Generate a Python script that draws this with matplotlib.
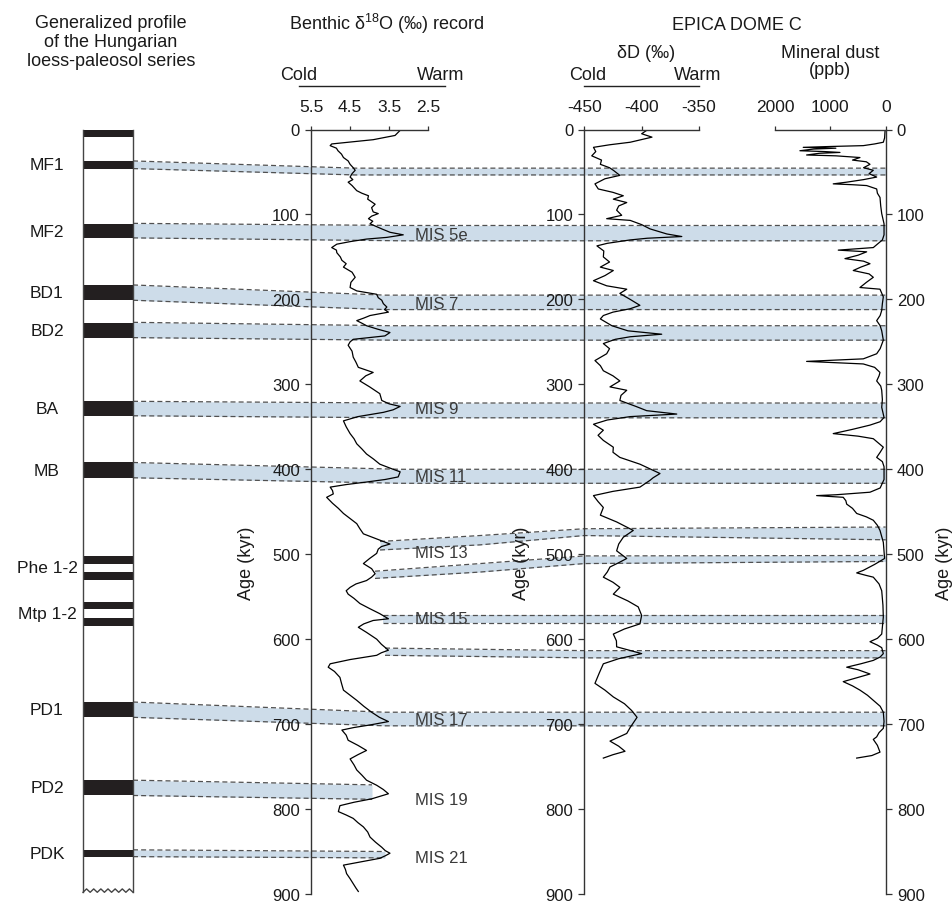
import matplotlib
matplotlib.use('Agg')
import matplotlib.pyplot as plt
from matplotlib.lines import Line2D

plt.rcParams['font.family'] = ['Liberation Sans', 'DejaVu Sans']
plt.rcParams['mathtext.fontset'] = 'custom'
plt.rcParams['mathtext.rm'] = 'Liberation Sans'
plt.rcParams['axes.unicode_minus'] = False

# ---- data ----
# benthic d18O stack (age kyr, permil)
benthic_age = [1, 7, 12, 17, 19, 22, 25, 29, 33, 37, 41, 45, 48, 52, 56, 59, 62, 66, 72, 75, 78, 82, 88, 92,
               97, 99, 102, 105, 108, 111, 117, 121, 124, 127, 129, 132, 135, 139, 142, 145, 150, 154, 158,
               162, 168, 174, 180, 186, 190, 194, 198, 201, 205, 209, 212, 215, 219, 222, 225, 228, 231, 235,
               239, 243, 247, 250, 254, 261, 268, 274, 280, 286, 290, 296, 303, 311, 319, 323, 326, 330, 333,
               338, 343, 350, 358, 364, 370, 376, 382, 388, 394, 400, 403, 409, 412, 415, 418, 421, 425, 429,
               433, 440, 446, 452, 458, 464, 470, 476, 482, 488, 491, 494, 499, 505, 511, 517, 523, 527, 531,
               535, 539, 543, 547, 552, 558, 564, 570, 576, 578, 582, 586, 592, 596, 600, 606, 613, 616, 619,
               624, 629, 633, 638, 645, 652, 660, 666, 672, 679, 686, 692, 697, 701, 704, 707, 713, 719, 725,
               731, 736, 741, 748, 754, 760, 766, 772, 777, 782, 788, 792, 796, 803, 807, 811, 816, 821, 827,
               833, 839, 845, 849, 852, 855, 858, 862, 866, 871, 876, 882, 888, 893, 897]
benthic_d18o = [3.22, 3.35, 3.91, 4.97, 5.01, 4.85, 4.81, 4.72, 4.67, 4.55, 4.50, 4.42, 4.37, 4.45, 4.50, 4.43,
                4.55, 4.45, 4.33, 4.20, 4.03, 4.05, 3.86, 3.95, 3.91, 3.78, 3.95, 4.03, 3.92, 3.99, 3.69, 3.48,
                3.14, 3.56, 4.08, 4.50, 4.84, 4.97, 4.85, 4.84, 4.75, 4.71, 4.60, 4.67, 4.45, 4.37, 4.48, 4.50,
                4.33, 3.82, 3.78, 3.69, 3.65, 3.56, 3.62, 3.52, 3.99, 4.15, 4.33, 4.20, 4.08, 3.80, 3.48, 3.61,
                4.42, 4.50, 4.55, 4.45, 4.42, 4.35, 4.29, 3.91, 4.10, 4.25, 4.00, 3.74, 3.69, 3.50, 3.22, 3.40,
                3.65, 4.30, 4.67, 4.60, 4.50, 4.40, 4.33, 4.20, 4.08, 3.90, 3.74, 3.40, 3.22, 3.27, 3.60, 4.08,
                4.60, 5.01, 4.95, 4.93, 5.10, 4.95, 4.80, 4.67, 4.50, 4.33, 4.25, 4.16, 3.82, 3.48, 3.70, 3.78,
                3.82, 4.00, 4.16, 3.95, 3.86, 3.95, 4.08, 4.35, 4.50, 4.60, 4.55, 4.40, 4.25, 4.00, 3.74, 3.52,
                3.91, 4.15, 4.29, 4.08, 3.95, 3.82, 3.70, 3.52, 3.70, 3.82, 4.50, 5.01, 5.06, 4.90, 4.76, 4.72,
                4.67, 4.50, 4.33, 4.15, 3.95, 3.75, 3.52, 3.99, 4.40, 4.71, 4.60, 4.55, 4.30, 4.08, 4.30, 4.50,
                4.40, 4.33, 4.20, 4.08, 3.82, 3.65, 3.52, 3.95, 4.40, 4.76, 4.80, 4.60, 4.42, 4.30, 4.16, 4.05,
                3.99, 3.85, 3.69, 3.60, 3.48, 3.60, 3.74, 4.20, 4.67, 4.62, 4.59, 4.50, 4.42, 4.35, 4.29]

# EPICA Dome C deuterium (age kyr, permil)
dd_age = [1, 5, 9, 15, 18, 21, 26, 31, 36, 41, 45, 48, 54, 58, 64, 70, 74, 78, 82, 86, 90, 95, 101, 105, 107,
          112, 117, 123, 126, 128, 130, 134, 137, 143, 150, 156, 162, 166, 172, 178, 184, 188, 193, 200, 207,
          211, 215, 219, 223, 231, 237, 241, 244, 247, 252, 258, 264, 272, 278, 284, 290, 296, 303, 307, 313,
          319, 326, 331, 335, 338, 342, 347, 354, 360, 366, 374, 380, 386, 394, 400, 405, 410, 413, 421, 426,
          431, 438, 445, 454, 462, 472, 480, 488, 496, 505, 510, 515, 521, 527, 533, 539, 547, 555, 562, 572,
          582, 588, 594, 602, 609, 617, 623, 629, 640, 652, 660, 668, 676, 684, 692, 700, 704, 711, 720, 726,
          732, 736, 740]
dd_val = [-395.6, -400, -391, -410, -428, -442, -440, -443.5, -435, -436, -428, -424.7, -419, -432, -440.7,
          -437.8, -425, -416, -424.7, -413, -420, -421.8, -417.4, -430.5, -410, -400, -392.7, -378, -365, -395,
          -410, -430, -439, -433, -433.4, -428, -436, -424.7, -432, -442, -430.5, -413, -419, -410, -401.5,
          -410, -425, -433.4, -436, -426, -412, -382.5, -410, -423, -433.4, -428, -430.5, -440.7, -436, -433.4,
          -425, -419, -427.6, -413, -418, -419, -405, -395.6, -369.4, -410, -430, -442, -433.4, -438, -433.4,
          -424.7, -425, -419, -401.5, -392, -384, -390, -392.7, -401.5, -425, -442, -438, -433.4, -436, -421.8,
          -407.3, -416, -420, -421.8, -413, -420, -427.6, -430, -433.4, -425, -419, -424.7, -412, -403, -400,
          -401.5, -415, -424.7, -422, -421.8, -400, -420, -433.4, -437, -440.7, -432, -424.7, -415, -408.7,
          -404, -408, -410, -413, -427.6, -420, -414.5, -425, -433.4]

# EPICA Dome C mineral dust (age kyr, ppb)
dust_age = [0, 10, 15, 17, 19, 20, 21, 22, 23, 25, 26, 27, 28, 30, 31, 33, 36, 38, 41, 45, 48, 52, 56, 59, 62,
            64, 65, 66, 70, 75, 80, 90, 99, 111, 124, 130, 135, 139, 142, 144, 148, 152, 155, 158, 162, 166,
            170, 174, 180, 186, 188, 197, 205, 213, 219, 225, 231, 237, 248, 258, 264, 270, 273, 276, 280, 286,
            290, 296, 302, 307, 318, 327, 339, 344, 348, 353, 358, 361, 364, 374, 380, 386, 391, 397, 412, 422,
            427, 430, 431, 433, 437, 441, 446, 452, 456, 460, 466, 472, 486, 505, 512, 519, 522, 525, 527, 535,
            543, 560, 574, 585, 594, 599, 603, 607, 610, 617, 621, 625, 629, 633, 636, 641, 645, 650, 655, 660,
            666, 672, 679, 686, 697, 705, 710, 715, 718, 725, 733, 737, 740]
dust_ppb = [10, 20, 43, 200, 405, 1000, 1490, 900, 1300, 1550, 1100, 826, 1200, 1429, 900, 465, 600, 350, 284,
            400, 224, 300, 163, 400, 705, 948, 600, 344, 163, 150, 103, 90, 72, 30, 30, 60, 150, 224, 857, 344,
            500, 736, 400, 284, 450, 586, 300, 224, 350, 465, 103, 43, 60, 72, 100, 163, 100, 72, 43, 100, 163,
            405, 1429, 405, 200, 103, 120, 163, 90, 72, 60, 72, 30, 100, 284, 600, 948, 500, 224, 43, 100, 163,
            60, 30, 30, 100, 284, 900, 1248, 767, 720, 705, 600, 524, 350, 224, 150, 103, 43, 20, 200, 405, 524,
            350, 224, 120, 72, 50, 43, 60, 72, 150, 284, 150, 72, 43, 100, 224, 450, 705, 500, 284, 500, 767,
            600, 465, 330, 224, 100, 43, 30, 43, 120, 163, 224, 150, 103, 250, 524]

# paleosols of the Hungarian profile (top / bottom age, kyr)
soil_top = [0, 37, 111, 183, 228, 320, 392, 502, 521, 556, 575, 674, 766, 848]
soil_bot = [9, 46, 128, 201, 246, 337, 410, 511, 530, 565, 584, 692, 784, 856]
soil_names = ['MF1', 'MF2', 'BD1', 'BD2', 'BA', 'MB', 'Phe 1-2', 'Mtp 1-2', 'PD1', 'PD2', 'PDK']
soil_name_age = [41.5, 119.5, 192, 237, 328.5, 401, 516, 570, 683, 775, 852]

mis_names = ['MIS 5e', 'MIS 7', 'MIS 9', 'MIS 11', 'MIS 13', 'MIS 15', 'MIS 17', 'MIS 19', 'MIS 21']
mis_age = [124, 205, 329, 408, 498.5, 576, 695, 789, 857]

# figure geometry in pixels
W, H = 953, 904
Y0, Y1 = 130.5, 895          # pixel rows of age 0 and 900
PROF_L, PROF_R = 83, 133
BEN_X0, BEN_X1 = 311, 428.3
DD_X0, DD_X1 = 584.3, 699
DU_X0, DU_X1 = 775, 885.7

# correlation bands: x pixels, top ages, bottom ages
bands = [
    ([PROF_R, 355, DU_X1], [37, 45.5, 45.5], [46, 53.5, 53.5]),
    ([PROF_R, 400, DU_X1], [110.5, 113, 113], [127.6, 131, 131]),
    ([PROF_R, 385, DU_X1], [183, 195, 195], [201, 212, 212]),
    ([PROF_R, 390, DU_X1], [227, 231, 231], [245, 248, 248]),
    ([PROF_R, 400, DU_X1], [320, 322, 322], [337, 339.4, 339.4]),
    ([PROF_R, 400, DU_X1], [392, 400, 400], [410, 416.5, 416.5]),
    ([380, 480, DD_X0, DU_X1], [485, 478, 470, 468], [495, 489, 478, 483]),
    ([375, 480, DD_X0, DU_X1], [520, 511, 502, 501.5], [528.5, 521, 511, 508.5]),
    ([383, DU_X1], [571, 571], [580.5, 580.5]),
    ([385, DD_X0, DU_X1], [610.5, 613.5, 613.5], [619, 622, 622]),
    ([PROF_R, 385, DU_X1], [674, 686, 686], [692, 702, 702]),
    ([PROF_R, 372], [766, 771.5], [784, 788.5]),
    ([PROF_R, 385], [848, 850], [856, 857.5]),
]

BAND_C = '#cddce9'
DASH_C = '#505050'
SOIL_C = '#231f20'
TXT_C = '#1a1a1a'


def fx(x):
    return x / W


def fy(y):
    return 1 - y / H


fig = plt.figure(figsize=(W / 100, H / 100), dpi=100)
bottom = fy(Y1)
height = (Y1 - Y0) / H

# background layer in (pixel x, age) coordinates
bg = fig.add_axes([0, bottom, 1, height])
bg.set_xlim(0, W)
bg.set_ylim(900, 0)
bg.axis('off')

for xs, tops, bots in bands:
    bg.fill_between(xs, tops, bots, color=BAND_C, lw=0, zorder=1)
    for edge in (tops, bots):
        bg.plot(xs, edge, color=DASH_C, lw=0.9, dashes=(4, 2.5), zorder=2)

# loess profile column
for t, b in zip(soil_top, soil_bot):
    bg.fill_between([PROF_L, PROF_R], [t, t], [b, b], color=SOIL_C, lw=0, zorder=3)
bg.plot([PROF_L, PROF_L], [0, 898], color='#444444', lw=1, zorder=3, clip_on=False)
bg.plot([PROF_R, PROF_R], [0, 898], color='#444444', lw=1, zorder=3, clip_on=False)
zz_x = [PROF_L + i * (PROF_R - PROF_L) / 14 for i in range(15)]
zz_y = [898 if i % 2 == 0 else 894 for i in range(15)]
bg.plot(zz_x, zz_y, color='#444444', lw=1, zorder=3, clip_on=False)

for name, a in zip(soil_names, soil_name_age):
    bg.text(47, a, name, ha='center', va='center', fontsize=12.5, color=TXT_C)
for name, a in zip(mis_names, mis_age):
    bg.text(415, a, name, ha='left', va='center', fontsize=12, color='#3a3a3a', zorder=4)


def curve_axes(x0, x1, xlim, xticks, right=False):
    ax = fig.add_axes([fx(x0), bottom, fx(x1 - x0), height])
    ax.set_facecolor('none')
    ax.set_xlim(*xlim)
    ax.set_ylim(900, 0)
    ax.set_yticks(range(0, 901, 100))
    ax.set_xticks(xticks)
    ax.xaxis.tick_top()
    ax.spines['bottom'].set_visible(False)
    if right:
        ax.spines['left'].set_visible(False)
        ax.yaxis.tick_right()
    else:
        ax.spines['right'].set_visible(False)
    for s in ax.spines.values():
        s.set_color('#333333')
        s.set_linewidth(1)
    ax.tick_params(axis='y', length=4, width=0.9, pad=4, labelsize=12, colors='#333333',
                   labelcolor=TXT_C)
    ax.tick_params(axis='x', length=3, width=0.9, pad=8, labelsize=12.5, colors='#333333',
                   labelcolor=TXT_C)
    return ax


ax1 = curve_axes(BEN_X0, BEN_X1, (5.5, 2.5), [5.5, 4.5, 3.5, 2.5])
ax1.set_xticklabels(['5.5', '4.5', '3.5', '2.5'])
ax1.plot(benthic_d18o, benthic_age, color='black', lw=0.9)

ax2 = curve_axes(DD_X0, DD_X1, (-450, -350), [-450, -400, -350])
ax2.plot(dd_val, dd_age, color='black', lw=0.9)

ax3 = curve_axes(DU_X0, DU_X1, (2000, 0), [2000, 1000, 0], right=True)
ax3.plot(dust_ppb, dust_age, color='black', lw=0.9)

# headers
def ftext(x, y, s, size=13, **kw):
    fig.text(fx(x), fy(y), s, fontsize=size, color=TXT_C, ha='center', va='baseline', **kw)


ftext(111, 28, 'Generalized profile')
ftext(111, 47, 'of the Hungarian')
ftext(111, 66, 'loess-paleosol series')
ftext(387, 30, r'Benthic δ$^{\mathrm{18}}$O (‰) record')
ftext(737, 30, 'EPICA DOME C')
ftext(646, 58, 'δD (‰)')
ftext(830, 58, 'Mineral dust')
ftext(830, 75, '(ppb)')
ftext(299, 80, 'Cold')
ftext(441, 80, 'Warm')
ftext(588, 80, 'Cold')
ftext(698, 80, 'Warm')
for x0, x1 in [(299, 445), (584, 699)]:
    fig.add_artist(Line2D([fx(x0), fx(x1)], [fy(87), fy(87)], color='#222222', lw=1))

for x in (247, 521, 945):
    fig.text(fx(x), fy(563), 'Age (kyr)', rotation=90, ha='center', va='center',
             fontsize=13, color=TXT_C)

fig.savefig('out.png', dpi=100)
